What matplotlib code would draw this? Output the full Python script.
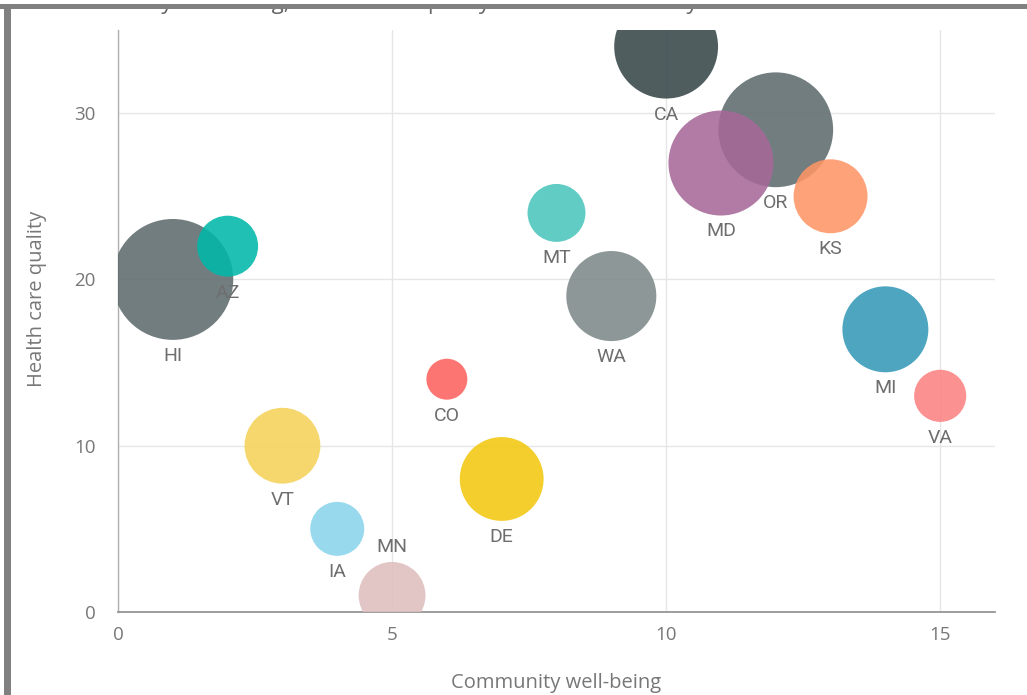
import numpy as np
import matplotlib
matplotlib.use("Agg")
import matplotlib.pyplot as plt
from matplotlib.patches import Rectangle

# Data: one bubble per state
states = ["CA", "HI", "AZ", "OR", "MD", "KS", "MT", "WA", "MI", "VA", "CO", "VT", "DE", "IA", "MN"]
community_wellbeing = [10, 1, 2, 12, 11, 13, 8, 9, 14, 15, 6, 3, 7, 4, 5]
health_care_quality = [34, 20, 22, 29, 27, 25, 24, 19, 17, 13, 14, 10, 8, 5, 1]
bubble_weight = [27.0, 36.6, 9.3, 33.0, 27.6, 13.7, 8.4, 20.3, 18.5, 6.8, 4.2, 14.4, 17.6, 7.3, 11.2]
colors = ["#374649", "#5F6B6D", "#01B8AA", "#5F6B6D", "#A66999", "#FE9666", "#4AC5BB",
          "#7F898A", "#3599B8", "#FB8281", "#FD625E", "#F4D25A", "#F2C80F", "#8AD4EB", "#DFBFBF"]

x_ticks = [0, 5, 10, 15]
y_ticks = [0, 10, 20, 30]
x_title = "Community well-being"
y_title = "Health care quality"
chart_title = "Community well-being, Health care quality and Overall rank by State"

W, H, DPI = 1027, 695, 100
fig = plt.figure(figsize=(W / DPI, H / DPI), dpi=DPI, facecolor="white")
ax = fig.add_axes([118 / W, (H - 612) / H, 877 / W, 582 / H])
ax.set_facecolor("white")

# marker area in pt^2 from bubble weight
sizes = np.array(bubble_weight) * 207.0
ax.scatter(community_wellbeing, health_care_quality, s=sizes, c=colors,
           alpha=0.88, linewidths=0, zorder=3)

ax.set_xlim(0, 16)
ax.set_ylim(0, 35)
ax.set_xticks(x_ticks)
ax.set_yticks(y_ticks)
ax.tick_params(length=0, labelsize=13.5, labelcolor="#777777")
ax.tick_params(axis="y", pad=16)
ax.tick_params(axis="x", pad=10)
for lab in ax.get_xticklabels() + ax.get_yticklabels():
    lab.set_family("Open Sans")

ax.grid(True, color="#e6e6e6", linewidth=1.0, zorder=0)
for sp in ["top", "right"]:
    ax.spines[sp].set_visible(False)
ax.spines["left"].set_color("#b0b0b0")
ax.spines["bottom"].set_color("#8c8c8c")
ax.spines["left"].set_linewidth(1.0)
ax.spines["bottom"].set_linewidth(1.2)

ax.set_xlabel(x_title, fontsize=14.5, color="#777777", family="Open Sans")
ax.set_ylabel(y_title, fontsize=14.5, color="#777777", family="Open Sans")
ax.xaxis.set_label_coords(0.5, -0.105)
ax.yaxis.set_label_coords(-0.081, 0.538)

# data labels below each bubble, above when there is no room below
ymin, ymax = ax.get_ylim()
px_per_unit = 582 / (ymax - ymin)
for st, xv, yv, s in zip(states, community_wellbeing, health_care_quality, sizes):
    r_pt = np.sqrt(s) / 2.0
    r_px = r_pt * DPI / 72.0
    below_px = (yv - ymin) * px_per_unit - r_px - 16
    off = -(r_pt + 11.5) if below_px > 8 else (r_pt + 11)
    ax.annotate(st, (xv, yv), xytext=(0, off), textcoords="offset points",
                ha="center", va="center", fontsize=14, color="#6e6e6e",
                family="Roboto", zorder=5, annotation_clip=False)

# title, scrolled up so only its lowest strip shows under the frame
fig.text(52 / W, 1 - 9.5 / H, chart_title, fontsize=16, color="#666666",
         family="Open Sans", ha="left", va="baseline", zorder=1)

# frame strip on top of everything: white margin, then the grey border
frame = fig.add_axes([0, 1 - 9 / H, 1, 9 / H], zorder=20)
frame.set_axis_off()
frame.set_xlim(0, 1)
frame.set_ylim(0, 9)
frame.add_patch(Rectangle((0, 5), 1, 4, facecolor="white", edgecolor="none"))
frame.add_patch(Rectangle((0, 0), 1, 5, facecolor="#808080", edgecolor="none"))

fig.add_artist(Rectangle((4 / W, 0), 7 / W, 1 - 4 / H, transform=fig.transFigure,
                         facecolor="#808080", edgecolor="none", zorder=21))

fig.savefig("out.png", dpi=DPI, facecolor="white")
